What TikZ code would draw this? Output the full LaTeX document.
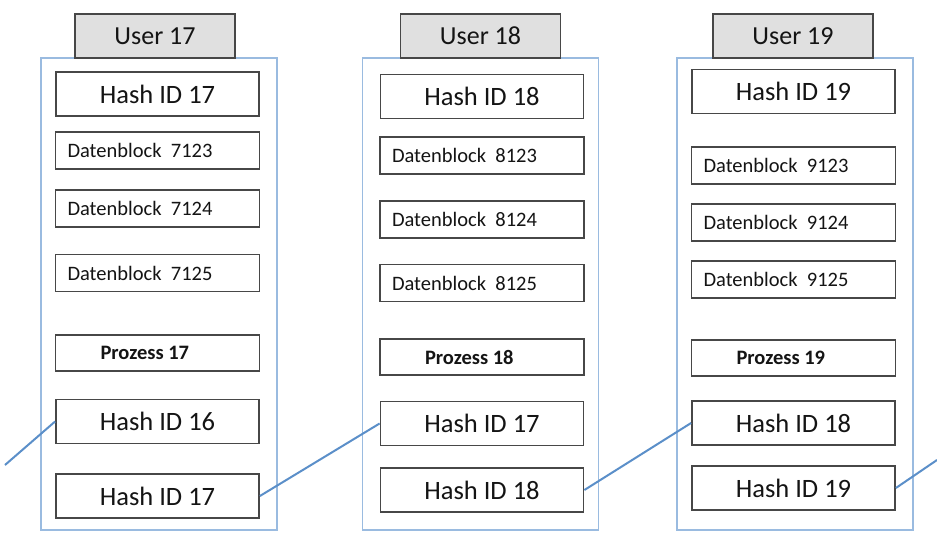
\documentclass[tikz,border=0pt]{standalone}
\usepackage{fontspec}
\setmainfont{Carlito}
\usetikzlibrary{positioning}

\definecolor{boxline}{HTML}{474747}
\definecolor{tabfill}{HTML}{E0E0E0}
\definecolor{colline}{HTML}{9ABBE0}
\definecolor{linkblue}{HTML}{5B8FC9}
\definecolor{txt}{HTML}{141414}

\begin{document}
\begin{tikzpicture}[
		x=1pt, y=-1pt,
		column/.style={rectangle, draw=colline, line width=1.5pt, fill=white, minimum width=236pt, minimum height=472pt, inner sep=0pt},
		usertab/.style={rectangle, draw=boxline, line width=1.8pt, fill=tabfill, minimum width=160pt, minimum height=44pt, inner sep=0pt, text=txt, font=\fontsize{26}{30}\selectfont},
		hashbox/.style={rectangle, draw=boxline, line width=1.8pt, fill=white, minimum width=203pt, minimum height=44pt, inner sep=0pt, text=txt, font=\fontsize{26.5}{30}\selectfont},
		datbox/.style={rectangle, draw=boxline, line width=1.8pt, fill=white, text width=180pt, inner xsep=12pt, inner ysep=0pt, minimum height=37pt, align=flush left, text=txt, font=\fontsize{20.5}{24}\selectfont},
		procbox/.style={datbox, text width=114pt, inner xsep=45pt, minimum height=36pt, font=\fontsize{20.5}{24}\selectfont\bfseries},
		link/.style={draw=linkblue, line width=2pt}
		]
		\useasboundingbox (0,0) rectangle (937,534);
		% One column per user
		\foreach \u/\bx/\tx/\ix/\dg/\hy/\ya/\yb/\yc/\py/\hpy/\hsy in {
			17/159/155/157.5/7/94/150.5/208.5/273/353/421.5/496,
			18/480.5/480.5/482/8/96.5/155.5/219.5/283/357/423.5/490,
			19/795/793/793.5/9/91.5/165.5/222.5/279.5/358/423/488} {
			\pgfmathtruncatemacro\prev{\u-1}
			% Frame and user tab
			\node[column] (C\u) at (\bx, 294) {};
			\node[usertab] (U\u) at (\tx, 36) {User \u};
			% Own hash
			\node[hashbox] (H\u) at (\ix, \hy) {Hash ID \u};
			% Data blocks
			\foreach \i/\y in {3/\ya, 4/\yb, 5/\yc}
				\node[datbox] (D\u\i) at (\ix, \y) {Datenblock\ \ \dg12\i};
			\node[procbox] (P\u) at (\ix, \py) {Prozess \u};
			% Chained hashes
			\node[hashbox] (Hp\u) at (\ix, \hpy) {Hash ID \prev};
			\node[hashbox] (Hs\u) at (\ix, \hsy) {Hash ID \u};
		}
		% Links between the columns
		\coordinate (in) at (5, 465);
		\coordinate (out) at (937, 460);
		\draw[link] (in) -- (Hp17.west);
		\foreach \a/\b in {17/18, 18/19}
			\draw[link] (Hs\a.east) -- (Hp\b.west);
		\draw[link] (Hs19.east) -- (out);
	\end{tikzpicture}
\end{document}
